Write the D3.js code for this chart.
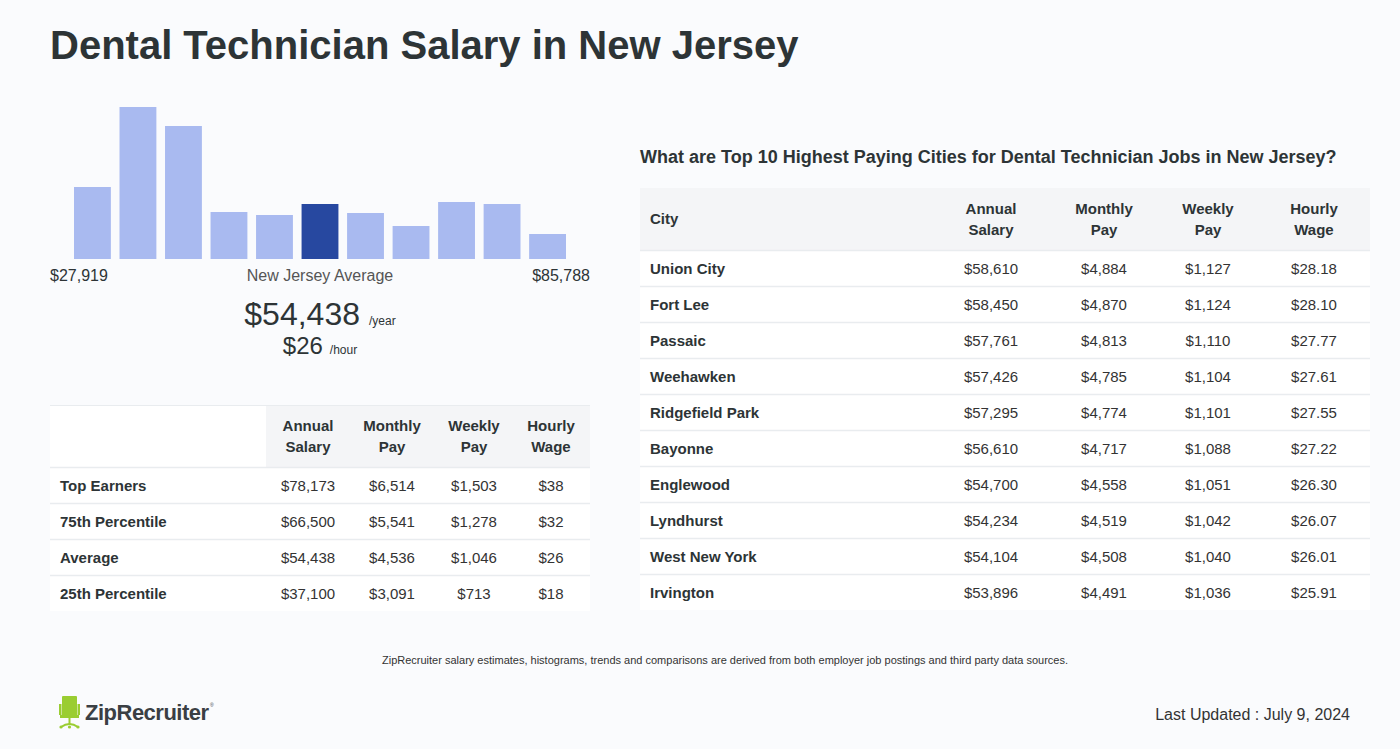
<!DOCTYPE html>
<head>
<meta charset="utf-8">
<title>Dental Technician Salary in New Jersey</title>
<script src="https://d3js.org/d3.v7.min.js"></script>
<style>
  body { margin: 0; background: #fafbfd; }
  svg text { font-family: "Liberation Sans", Arial, sans-serif; fill: #2d3436; }
</style>
</head>
<body>
<svg id="page" width="1400" height="749"></svg>
<script>
// histogram (relative counts per salary bucket)
var bins = [72, 152, 133, 47, 44, 55, 46, 33, 57, 55, 25];
var avgBin = 5;
var minLabel = "$27,919", maxLabel = "$85,788";
var avgYear = "$54,438", avgHour = "$26";

// percentile table
var pctRows = ["Top Earners", "75th Percentile", "Average", "25th Percentile"];
var pctAnnual = ["$78,173", "$66,500", "$54,438", "$37,100"];
var pctMonthly = ["$6,514", "$5,541", "$4,536", "$3,091"];
var pctWeekly = ["$1,503", "$1,278", "$1,046", "$713"];
var pctHourly = ["$38", "$32", "$26", "$18"];

// cities table
var cities = ["Union City", "Fort Lee", "Passaic", "Weehawken", "Ridgefield Park", "Bayonne", "Englewood", "Lyndhurst", "West New York", "Irvington"];
var cityAnnual = ["$58,610", "$58,450", "$57,761", "$57,426", "$57,295", "$56,610", "$54,700", "$54,234", "$54,104", "$53,896"];
var cityMonthly = ["$4,884", "$4,870", "$4,813", "$4,785", "$4,774", "$4,717", "$4,558", "$4,519", "$4,508", "$4,491"];
var cityWeekly = ["$1,127", "$1,124", "$1,110", "$1,104", "$1,101", "$1,088", "$1,051", "$1,042", "$1,040", "$1,036"];
var cityHourly = ["$28.18", "$28.10", "$27.77", "$27.61", "$27.55", "$27.22", "$26.30", "$26.07", "$26.01", "$25.91"];

var headers = [["Annual", "Salary"], ["Monthly", "Pay"], ["Weekly", "Pay"], ["Hourly", "Wage"]];

var svg = d3.select("#page");

// title
svg.append("text")
  .attr("x", 50).attr("y", 59)
  .style("font-size", "40px").style("font-weight", "bold")
  .text("Dental Technician Salary in New Jersey");

// histogram
var x = d3.scaleBand()
  .domain(d3.range(bins.length))
  .range([74, 566])
  .paddingInner(0.19)
  .paddingOuter(0);
var y = d3.scaleLinear()
  .domain([0, d3.max(bins)])
  .range([259, 107]);

svg.append("g").selectAll("rect")
  .data(bins)
  .enter().append("rect")
  .attr("x", function(d, i) { return x(i); })
  .attr("y", function(d) { return y(d); })
  .attr("width", x.bandwidth())
  .attr("height", function(d) { return y(0) - y(d); })
  .attr("fill", function(d, i) { return i == avgBin ? "#2748a0" : "#a9baf0"; });

svg.append("text").attr("x", 50).attr("y", 281)
  .style("font-size", "16px").text(minLabel);
svg.append("text").attr("x", 590).attr("y", 281).attr("text-anchor", "end")
  .style("font-size", "16px").text(maxLabel);
svg.append("text").attr("x", 320).attr("y", 281).attr("text-anchor", "middle")
  .style("font-size", "16px").style("fill", "#555").text("New Jersey Average");

var big = svg.append("text").attr("x", 320).attr("y", 325).attr("text-anchor", "middle");
big.append("tspan").style("font-size", "32px").text(avgYear);
big.append("tspan").style("font-size", "12px").attr("dx", 9).text("/year");
var small = svg.append("text").attr("x", 320).attr("y", 354).attr("text-anchor", "middle");
small.append("tspan").style("font-size", "24px").text(avgHour);
small.append("tspan").style("font-size", "12px").attr("dx", 7).text("/hour");

// generic table drawer
function drawTable(opt) {
  var g = svg.append("g");
  var nRows = opt.labels.length;
  var rowH = 36, headH = 62;
  g.append("rect").attr("x", opt.x0).attr("y", opt.y0)
    .attr("width", opt.x1 - opt.x0).attr("height", headH + nRows * rowH)
    .attr("fill", "#ffffff");
  g.append("rect").attr("x", opt.headX).attr("y", opt.y0)
    .attr("width", opt.x1 - opt.headX).attr("height", headH)
    .attr("fill", "#f4f5f7");
  if (opt.topLine) {
    g.append("line").attr("x1", opt.x0).attr("x2", opt.x1)
      .attr("y1", opt.y0 + 0.5).attr("y2", opt.y0 + 0.5)
      .attr("stroke", "#e9ecef");
  }
  // header text
  if (opt.firstHead) {
    g.append("text").attr("x", opt.x0 + 10).attr("y", opt.y0 + headH / 2 + 5)
      .style("font-size", "15px").style("font-weight", "bold").text(opt.firstHead);
  }
  headers.forEach(function(h, c) {
    var t = g.append("text").attr("text-anchor", "middle")
      .style("font-size", "15px").style("font-weight", "bold");
    h.forEach(function(line, k) {
      t.append("tspan").attr("x", opt.cols[c]).attr("y", opt.y0 + 26 + k * 21).text(line);
    });
  });
  // rows
  var rows = g.selectAll("g.row")
    .data(opt.labels)
    .enter().append("g")
    .attr("class", "row")
    .attr("transform", function(d, i) { return "translate(0," + (opt.y0 + headH + i * rowH) + ")"; });
  rows.append("line").attr("x1", opt.x0).attr("x2", opt.x1)
    .attr("y1", 0.5).attr("y2", 0.5)
    .attr("stroke", "#e9ecef").attr("stroke-width", 1.5);
  rows.append("text").attr("x", opt.x0 + 10).attr("y", 24)
    .style("font-size", "15px").style("font-weight", "bold")
    .text(function(d) { return d; });
  opt.values.forEach(function(arr, c) {
    rows.append("text").attr("x", opt.cols[c]).attr("y", 24)
      .attr("text-anchor", "middle").style("font-size", "15px").style("fill", "#333")
      .text(function(d, i) { return arr[i]; });
  });
}

drawTable({
  x0: 50, x1: 590, y0: 405, headX: 266, topLine: true,
  cols: [308, 392, 474, 551],
  labels: pctRows,
  values: [pctAnnual, pctMonthly, pctWeekly, pctHourly]
});

svg.append("text").attr("x", 640).attr("y", 163)
  .style("font-size", "18px").style("font-weight", "bold")
  .text("What are Top 10 Highest Paying Cities for Dental Technician Jobs in New Jersey?");

drawTable({
  x0: 640, x1: 1370, y0: 188, headX: 640, firstHead: "City",
  cols: [991, 1104, 1208, 1314],
  labels: cities,
  values: [cityAnnual, cityMonthly, cityWeekly, cityHourly]
});

// footnote
svg.append("text").attr("x", 725).attr("y", 664).attr("text-anchor", "middle")
  .style("font-size", "11px").style("fill", "#333")
  .text("ZipRecruiter salary estimates, histograms, trends and comparisons are derived from both employer job postings and third party data sources.");

// logo
var logo = svg.append("g").attr("transform", "translate(59,696)");
var green = "#9acd32";
logo.append("rect").attr("x", 3).attr("y", 0).attr("width", 15).attr("height", 20).attr("rx", 1).attr("fill", green);
logo.append("rect").attr("x", 0).attr("y", 8).attr("width", 2.5).attr("height", 11).attr("fill", green);
logo.append("rect").attr("x", 18.5).attr("y", 8).attr("width", 2.5).attr("height", 11).attr("fill", green);
logo.append("rect").attr("x", 1).attr("y", 19).attr("width", 19).attr("height", 3).attr("fill", green);
logo.append("rect").attr("x", 9.5).attr("y", 22).attr("width", 2).attr("height", 6).attr("fill", green);
logo.append("path").attr("d", "M2,31 Q10.5,25 19,31").attr("fill", "none").attr("stroke", green).attr("stroke-width", 2);
logo.append("circle").attr("cx", 2).attr("cy", 31).attr("r", 1.6).attr("fill", green);
logo.append("circle").attr("cx", 19).attr("cy", 31).attr("r", 1.6).attr("fill", green);
logo.append("circle").attr("cx", 10.5).attr("cy", 31).attr("r", 1.6).attr("fill", green);
logo.append("text").attr("x", 26).attr("y", 24)
  .style("font-size", "22px").style("font-weight", "bold").style("fill", "#3a3f44")
  .style("letter-spacing", "-0.5px")
  .text("ZipRecruiter");
logo.append("text").attr("x", 151).attr("y", 11).style("font-size", "5px").style("fill", "#3a3f44").text("®");

svg.append("text").attr("x", 1350).attr("y", 720).attr("text-anchor", "end")
  .style("font-size", "16px").style("fill", "#333")
  .text("Last Updated : July 9, 2024");
</script>
</body>
